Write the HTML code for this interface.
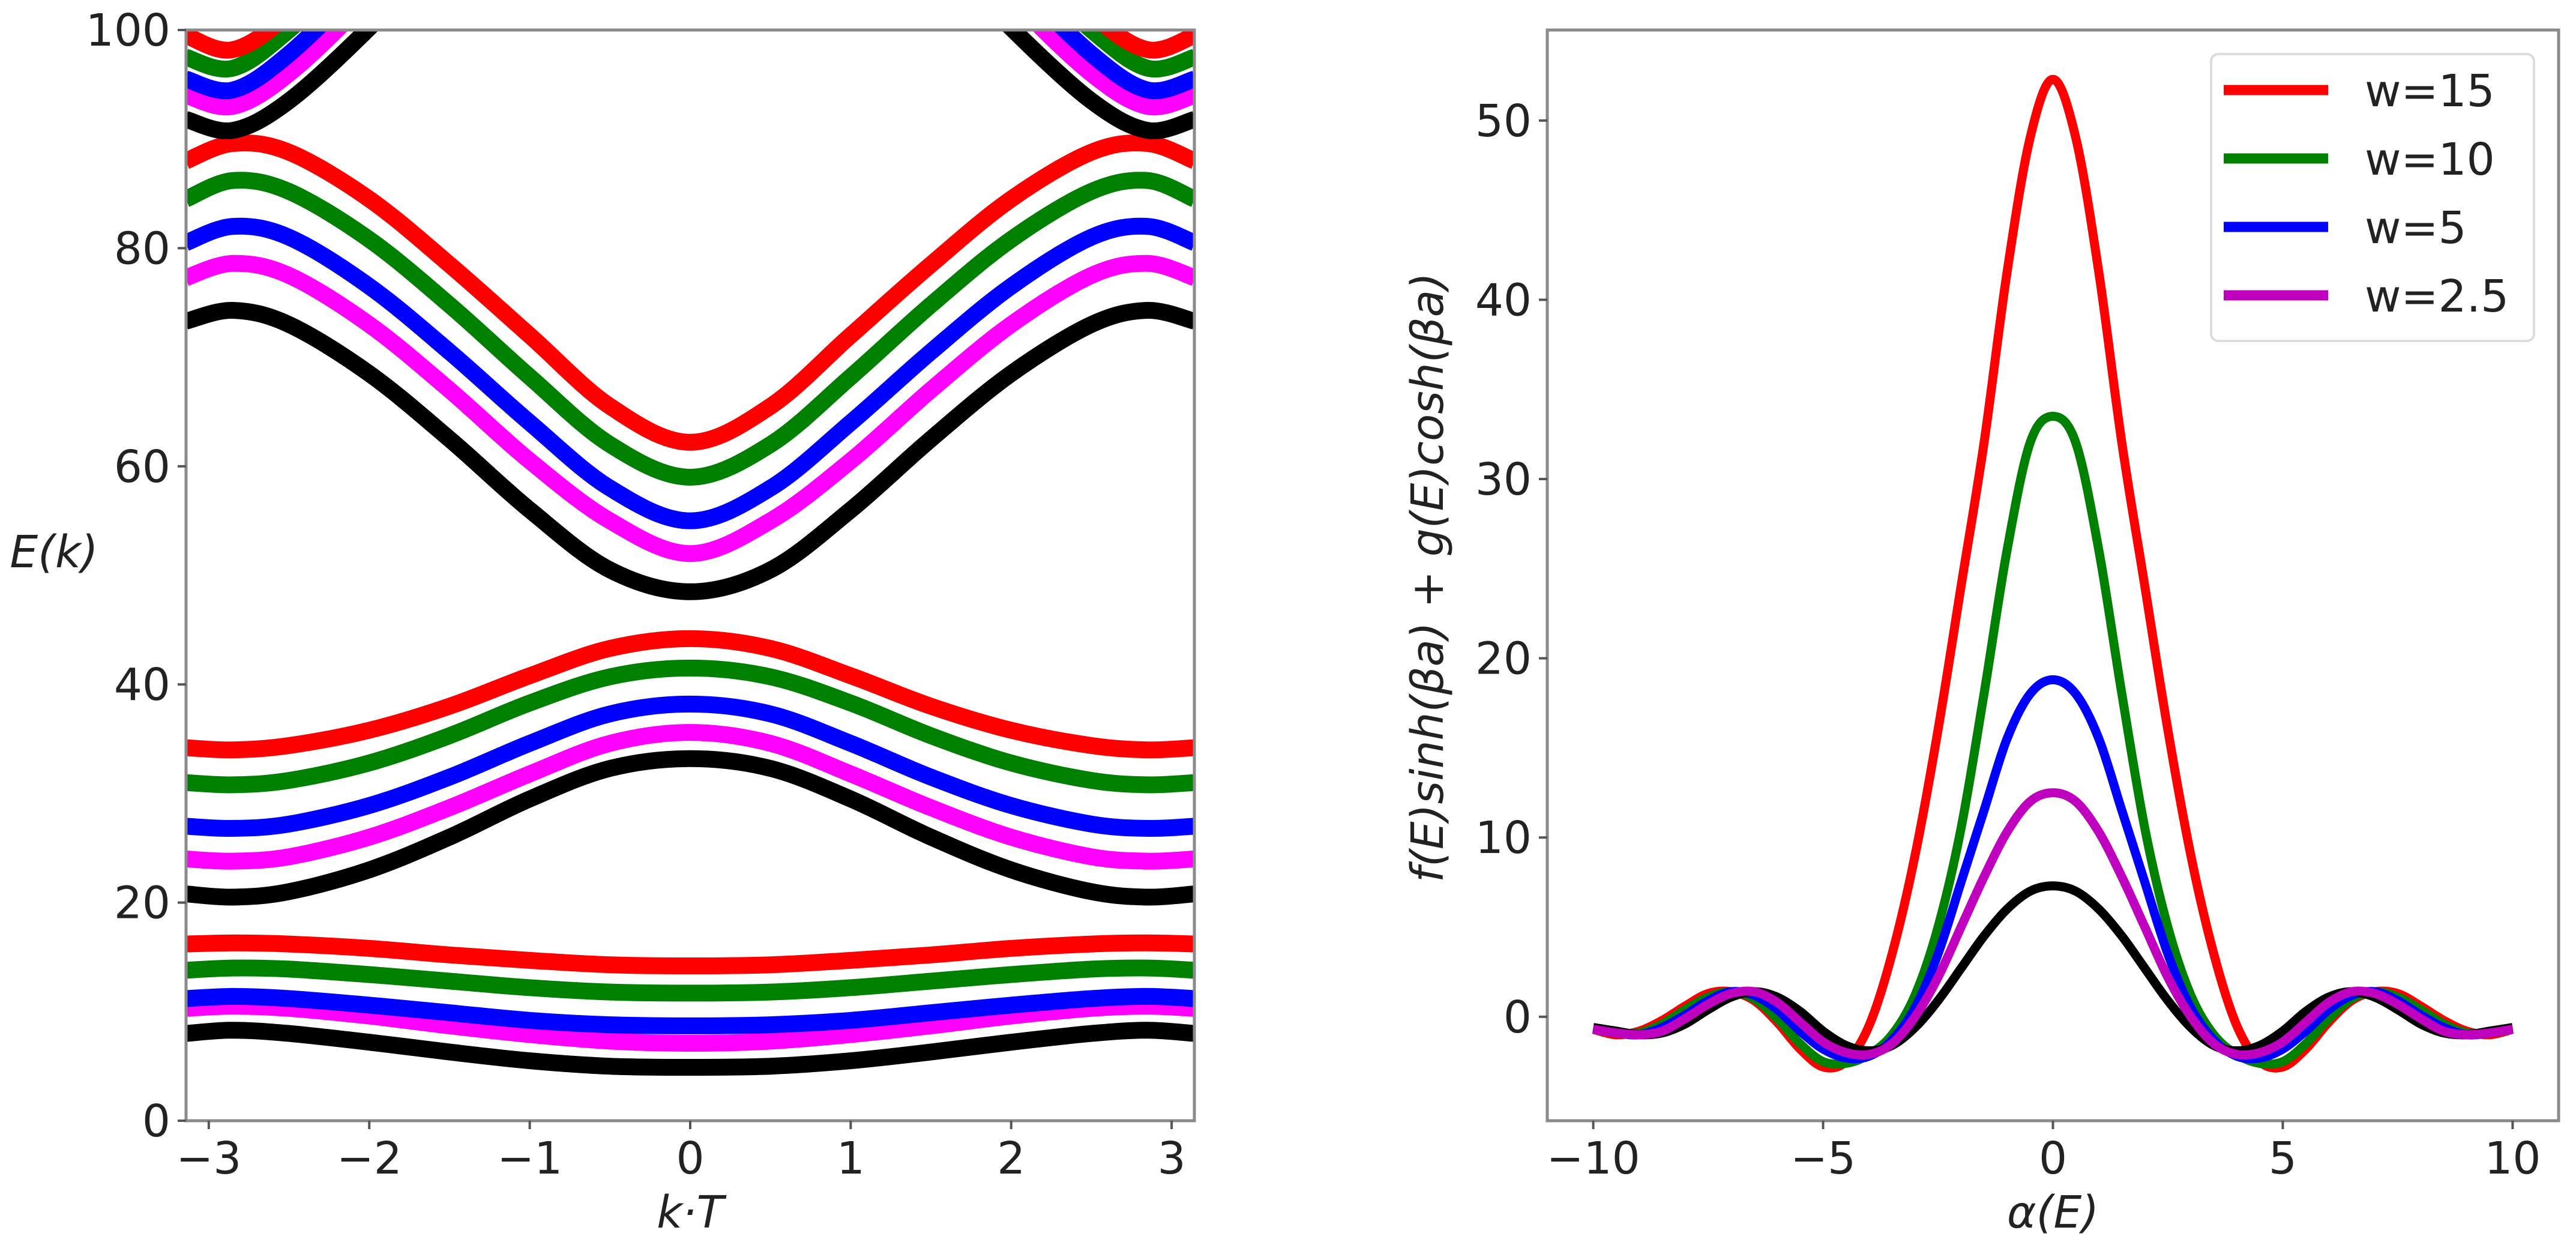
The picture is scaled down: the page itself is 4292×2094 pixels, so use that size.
<!DOCTYPE html>
<html><head><meta charset="utf-8">
<style>
html,body{margin:0;padding:0;background:#fff;}
svg{display:block;}
text{font-family:"DejaVu Sans","Liberation Sans",sans-serif;fill:#222;}
</style></head>
<body>
<svg id="fig" width="4292" height="2094" viewBox="0 0 4292 2094" xmlns="http://www.w3.org/2000/svg">
<defs>
<clipPath id="clipL"><rect x="310" y="50" width="1680" height="1817"/></clipPath>
<clipPath id="clipR"><rect x="2578" y="50" width="1685" height="1817"/></clipPath>
</defs>
<g id="left"></g>
<g id="right"></g>
</svg>
<script>
// ---------- LEFT CHART DATA ----------
const kPoints = [-3.1416,-2.85,-2.5,-2,-1.5,-1,-0.5,0,0.5,1,1.5,2,2.5,2.85,3.1416];
const bandColors = ['#000000','#ff00ff','#0000ff','#008000','#ff0000'];
const band1Black   = [8,8.3,8,7.2,6.3,5.5,5,4.9,5,5.5,6.3,7.2,8,8.3,8];
const band1Magenta = [10.3,10.5,10.3,9.6,8.7,7.9,7.3,7.1,7.3,7.9,8.7,9.6,10.3,10.5,10.3];
const band1Blue    = [11.2,11.4,11.2,10.6,9.9,9.2,8.8,8.7,8.8,9.2,9.9,10.6,11.2,11.4,11.2];
const band1Green   = [13.8,14,13.9,13.4,12.8,12.2,11.8,11.7,11.8,12.2,12.8,13.4,13.9,14,13.8];
const band1Red     = [16.2,16.3,16.2,15.8,15.2,14.7,14.3,14.2,14.3,14.7,15.2,15.8,16.2,16.3,16.2];
const band2Black   = [20.8,20.5,21,23,26,29.5,32.3,33.2,32.3,29.5,26,23,21,20.5,20.8];
const band2Magenta = [24,23.8,24.2,26,28.7,31.8,34.6,35.6,34.6,31.8,28.7,26,24.2,23.8,24];
const band2Blue    = [27,26.8,27.2,28.9,31.5,34.6,37.3,38.2,37.3,34.6,31.5,28.9,27.2,26.8,27];
const band2Green   = [31,30.8,31.2,32.8,35.3,38.3,40.7,41.5,40.7,38.3,35.3,32.8,31.2,30.8,31];
const band2Red     = [34.2,34,34.4,35.8,38,40.8,43.3,44.2,43.3,40.8,38,35.8,34.4,34,34.2];
const band3Black   = [73.3,74.3,73,68.5,62.5,56,50.5,48.5,50.5,56,62.5,68.5,73,74.3,73.3];
const band3Magenta = [77.3,78.6,77.5,73,67,60.5,55,52,55,60.5,67,73,77.5,78.6,77.3];
const band3Blue    = [80.5,82,81,76.5,70.5,64,58,55,58,64,70.5,76.5,81,82,80.5];
const band3Green   = [84.5,86.2,85.2,80.8,74.8,68.2,62,59,62,68.2,74.8,80.8,85.2,86.2,84.5];
const band3Red     = [88,89.6,88.8,84.5,78.5,72,65.5,62.2,65.5,72,78.5,84.5,88.8,89.6,88];
const band4Black   = [91.8,90.8,93.5,100.2,108,115,120,122,120,115,108,100.2,93.5,90.8,91.8];
const band4Magenta = [94,93,96,103,111,118,123,125,123,118,111,103,96,93,94];
const band4Blue    = [95.5,94.5,97.8,105,113,120,125,127,125,120,113,105,97.8,94.5,95.5];
const band4Green   = [97.5,96.5,100,107,115,122,127,129,127,122,115,107,100,96.5,97.5];
const band4Red     = [99.5,98.2,101.5,109,117,124,129,131,129,124,117,109,101.5,98.2,99.5];
const leftYTicks = [0,20,40,60,80,100];
const leftXTicks = [-3,-2,-1,0,1,2,3];

// ---------- RIGHT CHART DATA ----------
const alphaPoints = [-10,-9.5,-9,-8.5,-8,-7.5,-7,-6.5,-6,-5.5,-5,-4.5,-4,-3.5,-3,-2.5,-2,-1.5,-1,-0.5,0,0.5,1,1.5,2,2.5,3,3.5,4,4.5,5,5.5,6,6.5,7,7.5,8,8.5,9,9.5,10];
const seriesW15  = [-0.7,-1,-0.8,-0.2,0.6,1.3,1.4,0.9,-0.3,-1.8,-2.8,-2.5,-0.5,3.5,9,16,24,32,41.5,49,52.3,49,41.5,32,24,16,9,3.5,-0.5,-2.5,-2.8,-1.8,-0.3,0.9,1.4,1.3,0.6,-0.2,-0.8,-1,-0.7];
const seriesW10  = [-0.7,-0.9,-0.9,-0.4,0.4,1.1,1.4,1,-0.1,-1.5,-2.5,-2.6,-2.1,-1,1.2,5,10.5,18,26,32,33.5,32,26,18,10.5,5,1.2,-1,-2.1,-2.6,-2.5,-1.5,-0.1,1,1.4,1.1,0.4,-0.4,-0.9,-0.9,-0.7];
const seriesW5   = [-0.7,-0.9,-1,-0.6,0.1,0.9,1.4,1.2,0.4,-0.8,-1.8,-2.3,-2.2,-1.3,0.5,3.5,7.5,11.5,15.5,18,18.8,18,15.5,11.5,7.5,3.5,0.5,-1.3,-2.2,-2.3,-1.8,-0.8,0.4,1.2,1.4,0.9,0.1,-0.6,-1,-0.9,-0.7];
const seriesW2_5 = [-0.7,-0.9,-1,-0.8,-0.1,0.7,1.3,1.4,0.8,-0.3,-1.4,-2,-2.1,-1.5,0,2.2,5,7.8,10.3,12,12.5,12,10.3,7.8,5,2.2,0,-1.5,-2.1,-2,-1.4,-0.3,0.8,1.4,1.3,0.7,-0.1,-0.8,-1,-0.9,-0.7];
const seriesW0   = [-0.6,-0.8,-1,-0.9,-0.4,0.4,1.1,1.4,1.1,0.3,-0.8,-1.6,-1.9,-1.6,-0.6,0.9,2.7,4.5,6,7,7.3,7,6,4.5,2.7,0.9,-0.6,-1.6,-1.9,-1.6,-0.8,0.3,1.1,1.4,1.1,0.4,-0.4,-0.9,-1,-0.8,-0.6];
const rightYTicks = [0,10,20,30,40,50];
const rightXTicks = [-10,-5,0,5,10];
const legendLabels = ['w=15','w=10','w=5','w=2.5'];
const legendColors = ['#ff0000','#008000','#0000ff','#bf00bf'];

const NS='http://www.w3.org/2000/svg';
function mk(tag, attrs, parent){const e=document.createElementNS(NS,tag);for(const k in attrs)e.setAttribute(k,attrs[k]);parent.appendChild(e);return e;}
function smoothPath(xs, ys, sx, sy){
  const P=xs.map((x,i)=>[sx(x),sy(ys[i])]);
  let d='M'+P[0][0].toFixed(1)+','+P[0][1].toFixed(1);
  for(let i=0;i<P.length-1;i++){
    const p0=P[Math.max(0,i-1)],p1=P[i],p2=P[i+1],p3=P[Math.min(P.length-1,i+2)];
    const c1=[p1[0]+(p2[0]-p0[0])/6,p1[1]+(p2[1]-p0[1])/6];
    const c2=[p2[0]-(p3[0]-p1[0])/6,p2[1]-(p3[1]-p1[1])/6];
    d+=' C'+c1[0].toFixed(1)+','+c1[1].toFixed(1)+' '+c2[0].toFixed(1)+','+c2[1].toFixed(1)+' '+p2[0].toFixed(1)+','+p2[1].toFixed(1);
  }
  return d;
}

// ---------- LEFT ----------
const L=document.getElementById('left');
const lx0=310,lx1=1990,ly0=50,ly1=1867;
const xL=k=>lx0+(k+Math.PI)/(2*Math.PI)*(lx1-lx0);
const yL=v=>ly1-(v-0)/100*(ly1-ly0);
const gL=mk('g',{'clip-path':'url(#clipL)'},L);
const bands=[[band1Black,band1Magenta,band1Blue,band1Green,band1Red],[band2Black,band2Magenta,band2Blue,band2Green,band2Red],[band3Black,band3Magenta,band3Blue,band3Green,band3Red],[band4Black,band4Magenta,band4Blue,band4Green,band4Red]];
bands.forEach((b,bi)=>b.forEach((vals,ci)=>{
  const p=mk('path',{d:smoothPath(kPoints,vals,xL,yL),fill:'none',stroke:bandColors[ci],'stroke-width':28},gL);
  
  
}));
const fL=mk('rect',{x:lx0,y:ly0,width:lx1-lx0,height:ly1-ly0,fill:'none',stroke:'#8a8a8a','stroke-width':5},L);


leftYTicks.forEach(v=>{
  mk('line',{x1:lx0-14,x2:lx0,y1:yL(v),y2:yL(v),stroke:'#555','stroke-width':4},L);
  const t=mk('text',{x:lx0-26,y:yL(v)+26,'text-anchor':'end','font-size':74},L);t.textContent=v;
  
  
});
leftXTicks.forEach(v=>{
  mk('line',{x1:xL(v),x2:xL(v),y1:ly1,y2:ly1+14,stroke:'#555','stroke-width':4},L);
  const t=mk('text',{x:xL(v),y:ly1+88,'text-anchor':'middle','font-size':74},L);t.textContent=(v<0?'\u2212':'')+Math.abs(v);
  
  
});
let t=mk('text',{x:90,y:945,'text-anchor':'middle','font-size':74,'font-style':'italic'},L);t.textContent='E(k)';


t=mk('text',{x:(lx0+lx1)/2,y:2045,'text-anchor':'middle','font-size':74,'font-style':'italic'},L);t.textContent='k\u00b7T';



// ---------- RIGHT ----------
const R=document.getElementById('right');
const rx0=2578,rx1=4263,ry0=50,ry1=1867,ymin=-5.8,ymax=55.05;
const xR=a=>rx0+(a+11)/22*(rx1-rx0);
const yR=v=>ry1-(v-ymin)/(ymax-ymin)*(ry1-ry0);
const gR=mk('g',{'clip-path':'url(#clipR)'},R);
const rSeries=[[seriesW15,'#ff0000','w15'],[seriesW10,'#008000','w10'],[seriesW5,'#0000ff','w5'],[seriesW0,'#000000','w0'],[seriesW2_5,'#bf00bf','w2-5']];
rSeries.forEach(s=>{
  const p=mk('path',{d:smoothPath(alphaPoints,s[0],xR,yR),fill:'none',stroke:s[1],'stroke-width':15,'stroke-linejoin':'round'},gR);
  
  
});
const fR=mk('rect',{x:rx0,y:ry0,width:rx1-rx0,height:ry1-ry0,fill:'none',stroke:'#8a8a8a','stroke-width':5},R);


rightYTicks.forEach(v=>{
  mk('line',{x1:rx0-14,x2:rx0,y1:yR(v),y2:yR(v),stroke:'#555','stroke-width':4},R);
  const t=mk('text',{x:rx0-26,y:yR(v)+26,'text-anchor':'end','font-size':74},R);t.textContent=v;
  
  
});
rightXTicks.forEach(v=>{
  mk('line',{x1:xR(v),x2:xR(v),y1:ry1,y2:ry1+14,stroke:'#555','stroke-width':4},R);
  const t=mk('text',{x:xR(v),y:ry1+88,'text-anchor':'middle','font-size':74},R);t.textContent=(v<0?'\u2212':'')+Math.abs(v);
  
  
});
t=mk('text',{x:0,y:0,'text-anchor':'middle','font-size':74,'font-style':'italic',transform:'translate(2404,962) rotate(-90)'},R);t.textContent='f(E)sinh(\u03b2a) + g(E)cosh(\u03b2a)';


t=mk('text',{x:(rx0+rx1)/2,y:2045,'text-anchor':'middle','font-size':74,'font-style':'italic'},R);t.textContent='\u03b1(E)';


// legend
const lg=mk('g',{},R);


mk('rect',{x:3684,y:90,width:538,height:478,rx:12,fill:'#fff','fill-opacity':0.85,stroke:'#dcdcdc','stroke-width':4},lg);
legendLabels.forEach((lab,i)=>{
  const y=150+i*114;
  const e=mk('g',{},lg);
  
  
  mk('line',{x1:3705,x2:3879,y1:y,y2:y,stroke:legendColors[i],'stroke-width':17},e);
  const tt=mk('text',{x:3940,y:y+27,'font-size':74},e);tt.textContent=lab;
});
</script>
</body></html>
